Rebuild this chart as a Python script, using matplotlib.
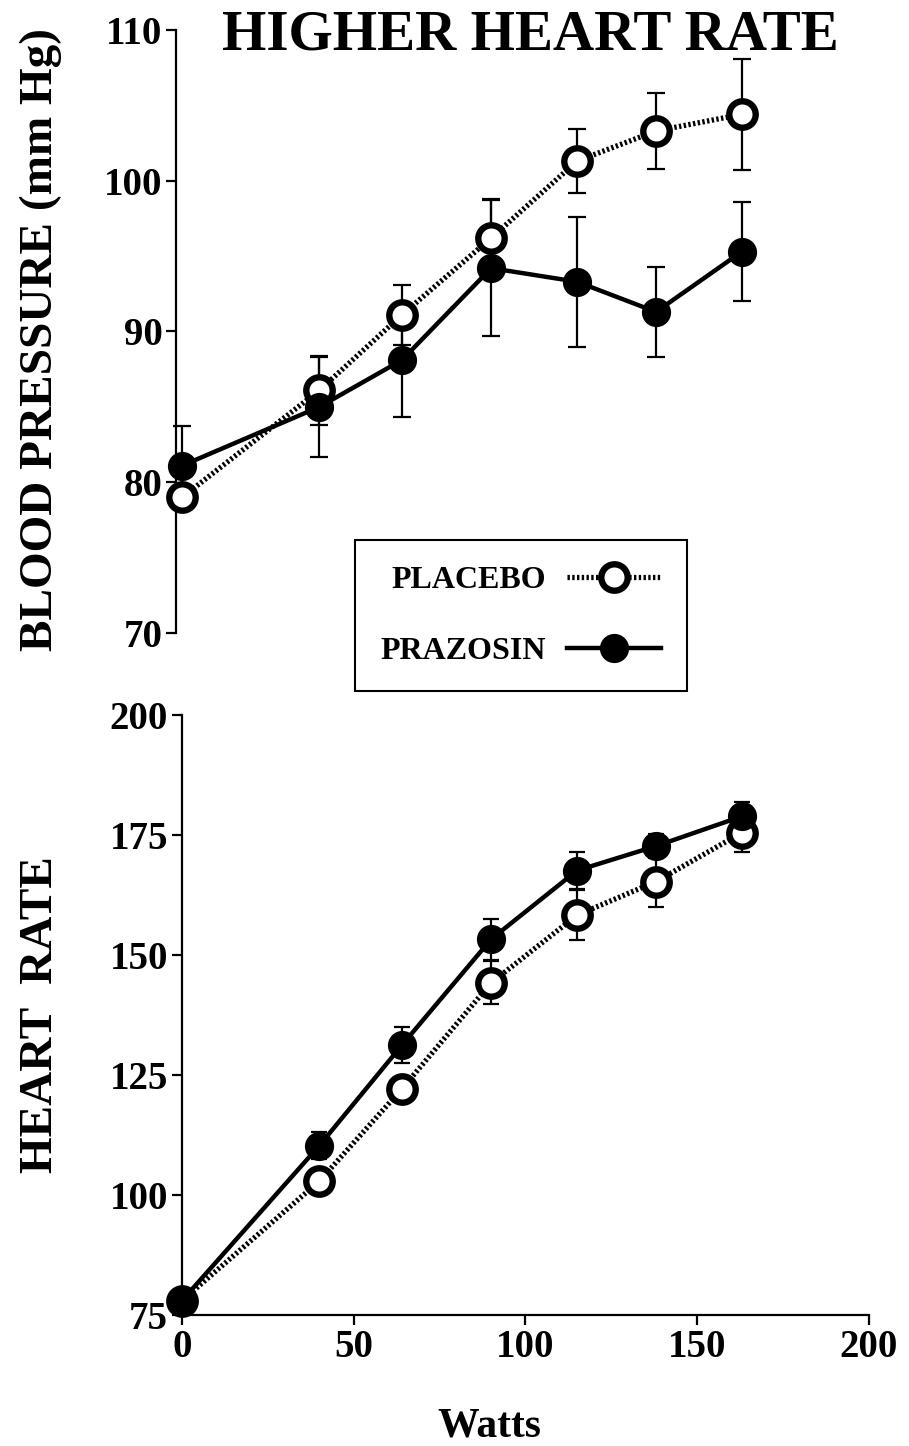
import matplotlib
matplotlib.use("Agg")
import matplotlib.pyplot as plt
from matplotlib.lines import Line2D

plt.rcParams['font.family'] = ['Liberation Serif', 'DejaVu Serif']
plt.rcParams['font.weight'] = 'bold'

# work loads (watts)
watts = [0, 40, 64, 90, 115, 138, 163]

# mean blood pressure (mm Hg) with SE
bp_placebo = [79.0, 86.1, 91.1, 96.2, 101.3, 103.3, 104.4]
bp_placebo_err = [0.0, 2.3, 2.0, 2.6, 2.1, 2.5, 3.7]
bp_prazosin = [81.1, 85.0, 88.1, 94.2, 93.3, 91.3, 95.3]
bp_prazosin_err = [2.6, 3.3, 3.8, 4.5, 4.3, 3.0, 3.3]

# heart rate (beats/min) with SE
hr_placebo = [78.0, 102.9, 122.1, 144.2, 158.3, 165.3, 175.5]
hr_placebo_err = [0.0, 2.5, 2.5, 4.5, 5.2, 5.2, 4.1]
hr_prazosin = [78.0, 110.3, 131.2, 153.3, 167.6, 172.7, 178.9]
hr_prazosin_err = [0.0, 2.9, 3.7, 4.3, 3.9, 2.5, 2.9]

bp_ticks = [70, 80, 90, 100, 110]
hr_ticks = [75, 100, 125, 150, 175, 200]
x_ticks = [0, 50, 100, 150, 200]

dotted = (0, (0.45, 0.45))
open_style = dict(color='black', linestyle=dotted, linewidth=3.8, marker='o',
                  markersize=19, markerfacecolor='white', markeredgecolor='black',
                  markeredgewidth=4.6, clip_on=False, zorder=4)
fill_style = dict(color='black', linestyle='-', linewidth=3.2, marker='o',
                  markersize=19.5, markerfacecolor='black', markeredgecolor='black',
                  markeredgewidth=1.5, clip_on=False, zorder=5)
err_style = dict(fmt='none', ecolor='black', elinewidth=1.6, capthick=1.6,
                 clip_on=False, zorder=2)

fig = plt.figure(figsize=(9.09, 14.46), dpi=100)

left, width = 0.2002, 0.7558
ax1 = fig.add_axes([left, 0.5622, width, 0.4171])
ax2 = fig.add_axes([left, 0.0906, width, 0.4149])

# top panel: blood pressure
ax1.errorbar(watts, bp_placebo, yerr=bp_placebo_err, capsize=6.5, **err_style)
ax1.errorbar(watts, bp_prazosin, yerr=bp_prazosin_err, capsize=6.5, **err_style)
ax1.plot(watts, bp_prazosin, **fill_style)
ax1.plot(watts, bp_placebo, **open_style)
ax1.set_xlim(0, 200)
ax1.set_ylim(70, 110)
ax1.set_yticks(bp_ticks)
ax1.set_xticks([])
for s in ['top', 'right', 'bottom']:
    ax1.spines[s].set_visible(False)
ax1.spines['left'].set_linewidth(1.6)
ax1.spines['left'].set_position(('outward', 4))
ax1.set_ylabel('BLOOD PRESSURE (mm Hg)', fontsize=34, fontweight='bold')
ax1.yaxis.set_label_coords(-0.175, 0.486)

# bottom panel: heart rate
ax2.errorbar(watts, hr_placebo, yerr=hr_placebo_err, capsize=5.5, **err_style)
ax2.errorbar(watts, hr_prazosin, yerr=hr_prazosin_err, capsize=5.5, **err_style)
ax2.plot(watts, hr_prazosin, **fill_style)
ax2.plot(watts, hr_placebo, **open_style)
ax2.set_xlim(0, 200)
ax2.set_ylim(75, 200)
ax2.set_yticks(hr_ticks)
ax2.set_xticks(x_ticks)
for s in ['top', 'right']:
    ax2.spines[s].set_visible(False)
for s in ['left', 'bottom']:
    ax2.spines[s].set_linewidth(1.6)
ax2.set_ylabel('HEART  RATE', fontsize=34, fontweight='bold')
ax2.yaxis.set_label_coords(-0.175, 0.5)
ax2.set_xlabel('Watts', fontsize=30, fontweight='bold')
ax2.xaxis.set_label_coords(0.448, -0.155)

for ax in (ax1, ax2):
    ax.tick_params(direction='out', length=7, width=1.6, labelsize=28, pad=3)
    for lab in ax.get_yticklabels() + ax.get_xticklabels():
        lab.set_fontweight('bold')
    ax.set_facecolor('none')

fig.text(0.583, 0.9755, 'HIGHER HEART RATE', fontsize=41, fontweight='bold',
         ha='center', va='center')

handles = [Line2D([], [], **{k: v for k, v in open_style.items() if k not in ('clip_on', 'zorder')}),
           Line2D([], [], **{k: v for k, v in fill_style.items() if k not in ('clip_on', 'zorder')})]
leg = fig.legend(handles, ['PLACEBO', 'PRAZOSIN'], loc='upper left',
                 bbox_to_anchor=(0.3905, 0.6266), markerfirst=False,
                 prop={'family': 'Liberation Serif', 'weight': 'bold', 'size': 23},
                 handlelength=2.95, handletextpad=0.65, labelspacing=1.3,
                 borderpad=0.8, borderaxespad=0, fancybox=False, framealpha=1,
                 edgecolor='black')
leg.get_frame().set_linewidth(1.5)

fig.savefig('out.png', dpi=100)
